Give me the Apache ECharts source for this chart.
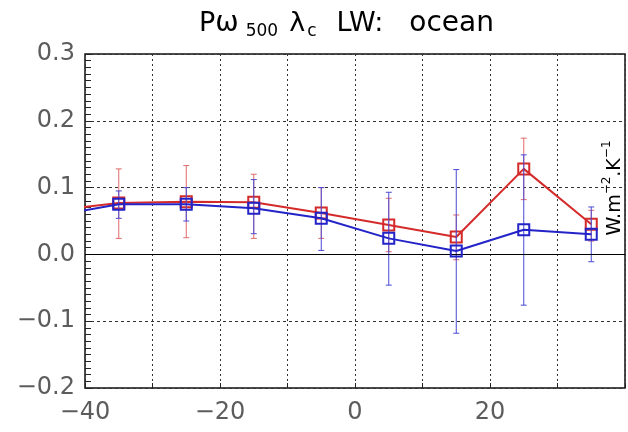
<!DOCTYPE html>
<html>
<head>
<meta charset="utf-8">
<script src="https://cdn.jsdelivr.net/npm/echarts@6/dist/echarts.min.js"></script>
<style>
html,body{margin:0;padding:0;background:#fff;}
#chart{width:628px;height:432px;}
</style>
</head>
<body>
<div id="chart"></div>
<script>
// ---- data ----
const lineX      = [-45, -35, -25, -15, -5, 5, 15, 25, 35];
const redValues  = [0.065, 0.077, 0.079, 0.078, 0.062, 0.044, 0.026, 0.128, 0.045];
const blueValues = [0.057, 0.075, 0.075, 0.069, 0.054, 0.024, 0.005, 0.037, 0.030];

const errX     = [-35, -25, -15, -5, 5, 15, 25, 35];
const redLow   = [0.024, 0.025, 0.024, 0.024, 0.004, -0.008, 0.082, 0.020];
const redHigh  = [0.128, 0.133, 0.120, 0.100, 0.084, 0.059, 0.174, 0.066];
const blueLow  = [0.054, 0.050, 0.031, 0.006, -0.046, -0.118, -0.076, -0.011];
const blueHigh = [0.095, 0.100, 0.112, 0.100, 0.093, 0.127, 0.149, 0.071];

const xTickLabels = [-40, -20, 0, 20];
const yTickLabels = ['0.3', '0.2', '0.1', '0.0', '\u22120.1', '\u22120.2'];

// ---- chart ----
const X_MIN = -40, X_MAX = 40, Y_MIN = -0.2, Y_MAX = 0.3;
const RED = '#d42a2a', RED_BAR = '#e06a6a';
const BLUE = '#2323c8', BLUE_BAR = '#4a4ad6';
const FONT = 'DejaVu Sans';
const LABEL_COLOR = '#5c5c5c';

function lineData(vals) {
  return lineX.map((x, i) => (x < X_MIN || x > X_MAX)
    ? { value: [x, vals[i]], symbol: 'none' }
    : [x, vals[i]]);
}
function barData(lo, hi) {
  return errX.map((x, i) => [x, lo[i], hi[i]]);
}
function errRender(color) {
  return function (params, api) {
    const x = api.value(0);
    const a = api.coord([x, api.value(1)]);
    const b = api.coord([x, api.value(2)]);
    const w = 3;
    const st = { stroke: color, lineWidth: 1 };
    return {
      type: 'group',
      children: [
        { type: 'line', shape: { x1: a[0], y1: a[1], x2: b[0], y2: b[1] }, style: st },
        { type: 'line', shape: { x1: a[0] - w, y1: a[1], x2: a[0] + w, y2: a[1] }, style: st },
        { type: 'line', shape: { x1: b[0] - w, y1: b[1], x2: b[0] + w, y2: b[1] }, style: st }
      ]
    };
  };
}

const chart = echarts.init(document.getElementById('chart'), null, { renderer: 'canvas' });

const yLabelMap = {};
[0.3, 0.2, 0.1, 0.0, -0.1, -0.2].forEach((v, i) => { yLabelMap[v.toFixed(1)] = yTickLabels[i]; });

chart.setOption({
  animation: false,
  backgroundColor: '#fff',
  grid: {
    left: 85, right: -6, top: 54, bottom: 44,
    show: true, borderColor: '#111', borderWidth: 1.5, backgroundColor: 'transparent'
  },
  xAxis: {
    type: 'value', min: X_MIN, max: X_MAX, interval: 10,
    axisLine: { show: false, onZero: false },
    axisTick: { show: true, inside: true, length: 5, lineStyle: { color: '#222' } },
    splitLine: { show: true, lineStyle: { color: '#333', width: 1, type: [2, 3] } },
    axisLabel: {
      margin: 13, fontFamily: FONT, fontSize: 24, color: LABEL_COLOR,
      formatter: v => xTickLabels.indexOf(v) >= 0 ? String(v).replace('-', '\u2212') : ''
    }
  },
  yAxis: {
    type: 'value', min: Y_MIN, max: Y_MAX, interval: 0.1,
    axisLine: { show: false, onZero: false },
    axisTick: { show: true, inside: true, length: 7, lineStyle: { color: '#222' } },
    minorTick: { show: true, splitNumber: 10, length: 6, lineStyle: { color: '#222' } },
    splitLine: { show: true, lineStyle: { color: '#333', width: 1, type: [3, 3] } },
    axisLabel: {
      margin: 10, fontFamily: FONT, fontSize: 24, color: LABEL_COLOR,
      formatter: v => yLabelMap[(+v).toFixed(1)] || ''
    }
  },
  graphic: [
    {
      type: 'text', x: 199, y: 10, z: 100,
      style: {
        text: '{a|P}{w|\u03c9}{s|500}{l|\u03bb}{c|c}{g|LW:}{o|ocean}',
        textAlign: 'left', textVerticalAlign: 'top',
        rich: {
          a: { fontFamily: FONT, fontSize: 27, color: LABEL_COLOR, lineHeight: 30, verticalAlign: 'top', padding: [0, 0, 10, 0] },
          w: { fontFamily: FONT, fontSize: 28, color: LABEL_COLOR, lineHeight: 30, verticalAlign: 'top', padding: [0, 0, 10, 0] },
          l: { fontFamily: FONT, fontSize: 27, color: LABEL_COLOR, lineHeight: 30, verticalAlign: 'top', padding: [0, 0, 10, 11] },
          g: { fontFamily: FONT, fontSize: 27, color: LABEL_COLOR, lineHeight: 30, verticalAlign: 'top', padding: [0, 0, 10, 20] },
          o: { fontFamily: FONT, fontSize: 28, color: LABEL_COLOR, lineHeight: 30, verticalAlign: 'top', padding: [0, 0, 10, 26] },
          s: { fontFamily: FONT, fontSize: 17, color: LABEL_COLOR, lineHeight: 18, verticalAlign: 'bottom', padding: [0, 0, 0, 7] },
          c: { fontFamily: FONT, fontSize: 17, color: LABEL_COLOR, lineHeight: 18, verticalAlign: 'bottom', padding: [0, 0, 0, 2] }
        }
      }
    },
    {
      type: 'text', x: 613, y: 188, rotation: Math.PI / 2, z: 100,
      style: {
        text: '{a|W.m}{u|\u22122}{a|.K}{u|\u22121}',
        textAlign: 'center', textVerticalAlign: 'middle',
        rich: {
          a: { fontFamily: FONT, fontSize: 19, color: LABEL_COLOR, lineHeight: 24, verticalAlign: 'bottom' },
          u: { fontFamily: FONT, fontSize: 12, color: LABEL_COLOR, lineHeight: 24, verticalAlign: 'top' }
        }
      }
    }
  ],
  series: [
    {
      type: 'custom', name: 'redErr', renderItem: errRender(RED_BAR),
      data: barData(redLow, redHigh), encode: { x: 0, y: [1, 2] }, z: 2, silent: true,
      markLine: {
        silent: true, symbol: 'none', label: { show: false },
        lineStyle: { color: '#000', width: 1.2, type: 'solid' },
        data: [{ yAxis: 0 }]
      }
    },
    {
      type: 'line', name: 'red', data: lineData(redValues), z: 3,
      symbol: 'rect', symbolSize: 11, showAllSymbol: true,
      lineStyle: { color: RED, width: 2 },
      itemStyle: { color: 'rgba(0,0,0,0)', borderColor: RED, borderWidth: 2 }
    },
    {
      type: 'custom', name: 'blueErr', renderItem: errRender(BLUE_BAR),
      data: barData(blueLow, blueHigh), encode: { x: 0, y: [1, 2] }, z: 4, silent: true
    },
    {
      type: 'line', name: 'blue', data: lineData(blueValues), z: 5,
      symbol: 'rect', symbolSize: 11, showAllSymbol: true,
      lineStyle: { color: BLUE, width: 2 },
      itemStyle: { color: 'rgba(0,0,0,0)', borderColor: BLUE, borderWidth: 2 }
    }
  ]
});
</script>
</body>
</html>
